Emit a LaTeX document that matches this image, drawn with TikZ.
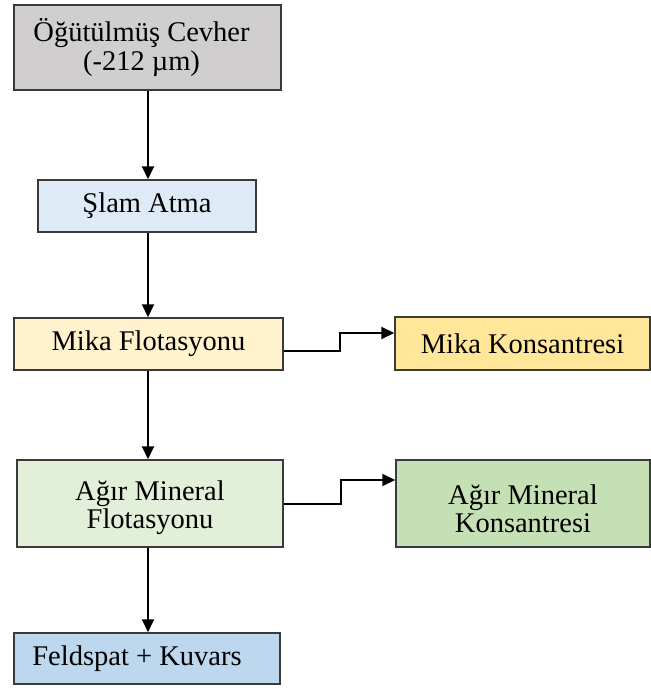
\documentclass[tikz,border=0pt]{standalone}
\usepackage{fontspec}
\setmainfont{Liberation Serif}
\usetikzlibrary{arrows.meta,calc}
\definecolor{cgray}{HTML}{D0CECE}
\definecolor{cblue}{HTML}{DEEBF7}
\definecolor{cyel}{HTML}{FFF2CC}
\definecolor{cyel2}{HTML}{FFE699}
\definecolor{cgrn}{HTML}{E2F0D9}
\definecolor{cgrn2}{HTML}{C5E0B4}
\definecolor{cblue2}{HTML}{BDD7EE}
\definecolor{cbord}{HTML}{3A3A3A}
\tikzset{
  box/.style={draw=cbord, line width=1.5pt, rectangle, inner sep=0pt},
  txt/.style={inner sep=0pt, align=center, font=\fontsize{28.5}{28.5}\selectfont, text=black},
  arr/.style={draw=black, line width=2pt, -{Triangle[length=13pt,width=12pt]}}
}
\begin{document}
\begin{tikzpicture}[x=1pt,y=-1pt]
\useasboundingbox (0,0) rectangle (651,689);
\node[box, fill=cgray, minimum width=267pt, minimum height=85pt] (b1) at (147.5,47.5) {};
\node[box, fill=cblue, minimum width=218pt, minimum height=52pt] (b2) at (147,206) {};
\node[box, fill=cyel, minimum width=269pt, minimum height=52pt] (b3) at (148.5,344) {};
\node[box, fill=cyel2, minimum width=255pt, minimum height=53pt] (b4) at (522.5,343.5) {};
\node[box, fill=cgrn, minimum width=266pt, minimum height=87pt] (b5) at (150,503.5) {};
\node[box, fill=cgrn2, minimum width=254pt, minimum height=87pt] (b6) at (523,503.5) {};
\node[box, fill=cblue2, minimum width=266pt, minimum height=51pt] (b7) at (147,658.5) {};
\node[txt] (t1) at ($(b1)+(-6,0)$) {Öğütülmüş Cevher\\(-212 µm)};
\node[txt] (t2) at (b2) {Şlam Atma};
\node[txt] (t3) at (b3) {Mika Flotasyonu};
\node[txt] (t4) at (b4) {Mika Konsantresi};
\node[txt] (t5) at ($(b5)+(0,4)$) {Ağır Mineral\\Flotasyonu};
\node[txt] (t6) at ($(b6)+(0,5)$) {Ağır Mineral\\Konsantresi};
\node[txt] (t7) at ($(b7)+(-10,0)$) {Feldspat + Kuvars};
\coordinate (v1) at ($(b1.south)+(0.5,0)$);
\draw[arr] (v1) -- (v1 |- b2.north);
\coordinate (v2) at ($(b2.south)+(1,0)$);
\draw[arr] (v2) -- (v2 |- b3.north);
\coordinate (v3) at ($(b3.south)+(-0.5,0)$);
\draw[arr] (v3) -- (v3 |- b5.north);
\coordinate (v4) at ($(b5.south)+(-2,0)$);
\draw[arr] (v4) -- (v4 |- b7.north);
\draw[arr] ([yshift=-7pt]b3.east) -- ++(56,0) |- ([yshift=10.5pt]b4.west);
\draw[arr] (b5.east) -- ++(57,0) |- ([yshift=23.5pt]b6.west);
\end{tikzpicture}
\end{document}
